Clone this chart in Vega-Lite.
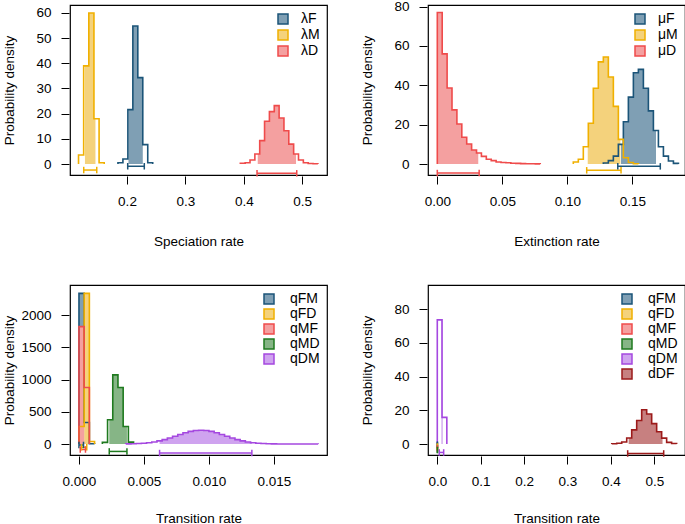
{
 "$schema": "https://vega.github.io/schema/vega-lite/v6.json",
 "padding": {"left": 1, "top": -1, "right": 0, "bottom": 0},
 "background": "white",
 "columns": 2,
 "spacing": {"row": 110, "column": 101},
 "bounds": "flush",
 "resolve": {"scale": {"fill": "independent", "stroke": "independent"}, "legend": {"fill": "independent", "stroke": "independent"}},
 "datasets": {
  "hist": [
   {"p":1,"s":"λF","x":0.1845,"d":0},{"p":1,"s":"λF","x":0.1845,"d":0.5},{"p":1,"s":"λF","x":0.193,"d":2},{"p":1,"s":"λF","x":0.2015,"d":21.6},{"p":1,"s":"λF","x":0.21,"d":54.8},{"p":1,"s":"λF","x":0.2185,"d":34.3},{"p":1,"s":"λF","x":0.227,"d":7.7},{"p":1,"s":"λF","x":0.2355,"d":0.5},{"p":1,"s":"λF","x":0.244,"d":0.5},{"p":1,"s":"λF","x":0.244,"d":0},
   {"p":1,"s":"λM","x":0.117,"d":0},{"p":1,"s":"λM","x":0.117,"d":3.6},{"p":1,"s":"λM","x":0.1258,"d":39},{"p":1,"s":"λM","x":0.1346,"d":60},{"p":1,"s":"λM","x":0.1434,"d":18},{"p":1,"s":"λM","x":0.1522,"d":0.5},{"p":1,"s":"λM","x":0.161,"d":0.5},{"p":1,"s":"λM","x":0.161,"d":0},
   {"p":1,"s":"λD","x":0.394,"d":0},{"p":1,"s":"λD","x":0.394,"d":0.3},{"p":1,"s":"λD","x":0.4023,"d":0.5},{"p":1,"s":"λD","x":0.4106,"d":1.6},{"p":1,"s":"λD","x":0.4189,"d":4},{"p":1,"s":"λD","x":0.4272,"d":9.3},{"p":1,"s":"λD","x":0.4355,"d":17},{"p":1,"s":"λD","x":0.4438,"d":20.8},{"p":1,"s":"λD","x":0.4521,"d":23.2},{"p":1,"s":"λD","x":0.4604,"d":18.3},{"p":1,"s":"λD","x":0.4687,"d":13.2},{"p":1,"s":"λD","x":0.477,"d":7.9},{"p":1,"s":"λD","x":0.4853,"d":4},{"p":1,"s":"λD","x":0.4936,"d":1.6},{"p":1,"s":"λD","x":0.5019,"d":0.5},{"p":1,"s":"λD","x":0.5102,"d":0.2},{"p":1,"s":"λD","x":0.5185,"d":0.1},{"p":1,"s":"λD","x":0.5268,"d":0.1},{"p":1,"s":"λD","x":0.5268,"d":0},
   {"p":2,"s":"μF","x":0.1277,"d":0},{"p":2,"s":"μF","x":0.1277,"d":0.5},{"p":2,"s":"μF","x":0.13155,"d":1.7},{"p":2,"s":"μF","x":0.1354,"d":4},{"p":2,"s":"μF","x":0.13925,"d":10},{"p":2,"s":"μF","x":0.1431,"d":21.5},{"p":2,"s":"μF","x":0.14695,"d":34},{"p":2,"s":"μF","x":0.1508,"d":46.4},{"p":2,"s":"μF","x":0.15465,"d":48.1},{"p":2,"s":"μF","x":0.1585,"d":38.5},{"p":2,"s":"μF","x":0.16235,"d":27},{"p":2,"s":"μF","x":0.1662,"d":17},{"p":2,"s":"μF","x":0.17005,"d":8.8},{"p":2,"s":"μF","x":0.1739,"d":4},{"p":2,"s":"μF","x":0.17775,"d":1.5},{"p":2,"s":"μF","x":0.1816,"d":0.3},{"p":2,"s":"μF","x":0.18545,"d":0.3},{"p":2,"s":"μF","x":0.18545,"d":0},
   {"p":2,"s":"μM","x":0.1046,"d":0},{"p":2,"s":"μM","x":0.1046,"d":1},{"p":2,"s":"μM","x":0.10845,"d":2.4},{"p":2,"s":"μM","x":0.1123,"d":8.8},{"p":2,"s":"μM","x":0.11615,"d":20.7},{"p":2,"s":"μM","x":0.12,"d":38.5},{"p":2,"s":"μM","x":0.12385,"d":51.9},{"p":2,"s":"μM","x":0.1277,"d":54.4},{"p":2,"s":"μM","x":0.13155,"d":44.2},{"p":2,"s":"μM","x":0.1354,"d":29.3},{"p":2,"s":"μM","x":0.13925,"d":12.5},{"p":2,"s":"μM","x":0.1431,"d":3.2},{"p":2,"s":"μM","x":0.14695,"d":0.8},{"p":2,"s":"μM","x":0.1508,"d":0.1},{"p":2,"s":"μM","x":0.15465,"d":0.1},{"p":2,"s":"μM","x":0.15465,"d":0},
   {"p":2,"s":"μD","x":0,"d":0},{"p":2,"s":"μD","x":0,"d":77},{"p":2,"s":"μD","x":0.00377,"d":56},{"p":2,"s":"μD","x":0.00754,"d":38.6},{"p":2,"s":"μD","x":0.01131,"d":27.5},{"p":2,"s":"μD","x":0.01508,"d":20.3},{"p":2,"s":"μD","x":0.01885,"d":13.6},{"p":2,"s":"μD","x":0.02262,"d":10.2},{"p":2,"s":"μD","x":0.02639,"d":7.1},{"p":2,"s":"μD","x":0.03016,"d":5.6},{"p":2,"s":"μD","x":0.03393,"d":3.9},{"p":2,"s":"μD","x":0.0377,"d":2.4},{"p":2,"s":"μD","x":0.04147,"d":1.7},{"p":2,"s":"μD","x":0.04524,"d":1.0},{"p":2,"s":"μD","x":0.04901,"d":0.8},{"p":2,"s":"μD","x":0.05278,"d":0.6},{"p":2,"s":"μD","x":0.05655,"d":0.4},{"p":2,"s":"μD","x":0.06032,"d":0.3},{"p":2,"s":"μD","x":0.06409,"d":0.2},{"p":2,"s":"μD","x":0.06786,"d":0.15},{"p":2,"s":"μD","x":0.07163,"d":0.1},{"p":2,"s":"μD","x":0.0754,"d":0.05},{"p":2,"s":"μD","x":0.07917,"d":0.05},{"p":2,"s":"μD","x":0.07917,"d":0},
   {"p":3,"s":"qFM","x":0,"d":0},{"p":3,"s":"qFM","x":0,"d":2340},{"p":3,"s":"qFM","x":0.0004,"d":335},{"p":3,"s":"qFM","x":0.0008,"d":5},{"p":3,"s":"qFM","x":0.0012,"d":5},{"p":3,"s":"qFM","x":0.0012,"d":0},
   {"p":3,"s":"qFD","x":0,"d":0},{"p":3,"s":"qFD","x":0,"d":273},{"p":3,"s":"qFD","x":0.0004,"d":2340},{"p":3,"s":"qFD","x":0.0008,"d":40},{"p":3,"s":"qFD","x":0.0012,"d":40},{"p":3,"s":"qFD","x":0.0012,"d":0},
   {"p":3,"s":"qMF","x":0,"d":0},{"p":3,"s":"qMF","x":0,"d":1823},{"p":3,"s":"qMF","x":0.0004,"d":877},{"p":3,"s":"qMF","x":0.0008,"d":877},{"p":3,"s":"qMF","x":0.0008,"d":0},
   {"p":3,"s":"qMD","x":0.0018,"d":0},{"p":3,"s":"qMD","x":0.0018,"d":25},{"p":3,"s":"qMD","x":0.0022,"d":377},{"p":3,"s":"qMD","x":0.0026,"d":1074},{"p":3,"s":"qMD","x":0.003,"d":877},{"p":3,"s":"qMD","x":0.0034,"d":273},{"p":3,"s":"qMD","x":0.0038,"d":30},{"p":3,"s":"qMD","x":0.0042,"d":30},{"p":3,"s":"qMD","x":0.0042,"d":0},
   {"p":3,"s":"qDM","x":0.0036,"d":0},{"p":3,"s":"qDM","x":0.0036,"d":2.2},{"p":3,"s":"qDM","x":0.004,"d":4.1},{"p":3,"s":"qDM","x":0.0044,"d":7.4},{"p":3,"s":"qDM","x":0.0048,"d":12.7},{"p":3,"s":"qDM","x":0.0052,"d":20.8},{"p":3,"s":"qDM","x":0.0056,"d":32.4},{"p":3,"s":"qDM","x":0.006,"d":48.2},{"p":3,"s":"qDM","x":0.0064,"d":68.4},{"p":3,"s":"qDM","x":0.0068,"d":92.7},{"p":3,"s":"qDM","x":0.0072,"d":119.9},{"p":3,"s":"qDM","x":0.0076,"d":147.9},{"p":3,"s":"qDM","x":0.008,"d":174.2},{"p":3,"s":"qDM","x":0.0084,"d":195.8},{"p":3,"s":"qDM","x":0.0088,"d":210},{"p":3,"s":"qDM","x":0.0092,"d":215},{"p":3,"s":"qDM","x":0.0096,"d":210},{"p":3,"s":"qDM","x":0.01,"d":195.8},{"p":3,"s":"qDM","x":0.0104,"d":174.2},{"p":3,"s":"qDM","x":0.0108,"d":147.9},{"p":3,"s":"qDM","x":0.0112,"d":119.9},{"p":3,"s":"qDM","x":0.0116,"d":92.7},{"p":3,"s":"qDM","x":0.012,"d":68.4},{"p":3,"s":"qDM","x":0.0124,"d":48.2},{"p":3,"s":"qDM","x":0.0128,"d":32.4},{"p":3,"s":"qDM","x":0.0132,"d":20.8},{"p":3,"s":"qDM","x":0.0136,"d":12.7},{"p":3,"s":"qDM","x":0.014,"d":7.4},{"p":3,"s":"qDM","x":0.0144,"d":4.1},{"p":3,"s":"qDM","x":0.0148,"d":2.2},{"p":3,"s":"qDM","x":0.0152,"d":1.1},{"p":3,"s":"qDM","x":0.0156,"d":0.5},{"p":3,"s":"qDM","x":0.016,"d":0.25},{"p":3,"s":"qDM","x":0.0164,"d":0.1},{"p":3,"s":"qDM","x":0.0168,"d":0.05},{"p":3,"s":"qDM","x":0.0172,"d":0.03},{"p":3,"s":"qDM","x":0.0176,"d":0.02},{"p":3,"s":"qDM","x":0.018,"d":0.01},{"p":3,"s":"qDM","x":0.0184,"d":0.01},{"p":3,"s":"qDM","x":0.0184,"d":0},
   {"p":4,"s":"qDM","x":0,"d":0},{"p":4,"s":"qDM","x":0,"d":73.7},{"p":4,"s":"qDM","x":0.011,"d":15.8},{"p":4,"s":"qDM","x":0.022,"d":15.8},{"p":4,"s":"qDM","x":0.022,"d":0},
   {"p":4,"s":"dDF","x":0.402,"d":0},{"p":4,"s":"dDF","x":0.402,"d":0.2},{"p":4,"s":"dDF","x":0.4135,"d":0.5},{"p":4,"s":"dDF","x":0.425,"d":1.2},{"p":4,"s":"dDF","x":0.4365,"d":3.6},{"p":4,"s":"dDF","x":0.448,"d":8.4},{"p":4,"s":"dDF","x":0.4595,"d":14},{"p":4,"s":"dDF","x":0.471,"d":20.3},{"p":4,"s":"dDF","x":0.4825,"d":17.8},{"p":4,"s":"dDF","x":0.494,"d":12.1},{"p":4,"s":"dDF","x":0.5055,"d":7.3},{"p":4,"s":"dDF","x":0.517,"d":3.5},{"p":4,"s":"dDF","x":0.5285,"d":1},{"p":4,"s":"dDF","x":0.54,"d":0.3},{"p":4,"s":"dDF","x":0.5515,"d":0.3},{"p":4,"s":"dDF","x":0.5515,"d":0}
  ],
  "fill": [
   {"p":1,"s":"λF","x":0.2025,"d":21.6},{"p":1,"s":"λF","x":0.21,"d":54.8},{"p":1,"s":"λF","x":0.2185,"d":34.3},{"p":1,"s":"λF","x":0.227,"d":34.3},
   {"p":1,"s":"λM","x":0.128,"d":39},{"p":1,"s":"λM","x":0.1346,"d":60},{"p":1,"s":"λM","x":0.1434,"d":18},{"p":1,"s":"λM","x":0.146,"d":18},
   {"p":1,"s":"λD","x":0.4238,"d":4},{"p":1,"s":"λD","x":0.4272,"d":9.3},{"p":1,"s":"λD","x":0.4355,"d":17},{"p":1,"s":"λD","x":0.4438,"d":20.8},{"p":1,"s":"λD","x":0.4521,"d":23.2},{"p":1,"s":"λD","x":0.4604,"d":18.3},{"p":1,"s":"λD","x":0.4687,"d":13.2},{"p":1,"s":"λD","x":0.477,"d":7.9},{"p":1,"s":"λD","x":0.4853,"d":4},{"p":1,"s":"λD","x":0.4894,"d":4},
   {"p":2,"s":"μF","x":0.1413,"d":10},{"p":2,"s":"μF","x":0.1431,"d":21.5},{"p":2,"s":"μF","x":0.14695,"d":34},{"p":2,"s":"μF","x":0.1508,"d":46.4},{"p":2,"s":"μF","x":0.15465,"d":48.1},{"p":2,"s":"μF","x":0.1585,"d":38.5},{"p":2,"s":"μF","x":0.16235,"d":27},{"p":2,"s":"μF","x":0.1662,"d":17},{"p":2,"s":"μF","x":0.1682,"d":17},
   {"p":2,"s":"μM","x":0.1157,"d":8.8},{"p":2,"s":"μM","x":0.11615,"d":20.7},{"p":2,"s":"μM","x":0.12,"d":38.5},{"p":2,"s":"μM","x":0.12385,"d":51.9},{"p":2,"s":"μM","x":0.1277,"d":54.4},{"p":2,"s":"μM","x":0.13155,"d":44.2},{"p":2,"s":"μM","x":0.1354,"d":29.3},{"p":2,"s":"μM","x":0.13925,"d":12.5},{"p":2,"s":"μM","x":0.1408,"d":12.5},
   {"p":2,"s":"μD","x":0,"d":77},{"p":2,"s":"μD","x":0.00377,"d":56},{"p":2,"s":"μD","x":0.00754,"d":38.6},{"p":2,"s":"μD","x":0.01131,"d":27.5},{"p":2,"s":"μD","x":0.01508,"d":20.3},{"p":2,"s":"μD","x":0.01885,"d":13.6},{"p":2,"s":"μD","x":0.02262,"d":10.2},{"p":2,"s":"μD","x":0.02639,"d":7.1},{"p":2,"s":"μD","x":0.03016,"d":5.6},{"p":2,"s":"μD","x":0.0315,"d":5.6},
   {"p":3,"s":"qFM","x":0,"d":2340},{"p":3,"s":"qFM","x":0.0004,"d":2340},
   {"p":3,"s":"qFD","x":0.0004,"d":2340},{"p":3,"s":"qFD","x":0.0008,"d":2340},
   {"p":3,"s":"qMF","x":0,"d":1823},{"p":3,"s":"qMF","x":0.0004,"d":1823},
   {"p":3,"s":"qMD","x":0.00233,"d":377},{"p":3,"s":"qMD","x":0.0026,"d":1074},{"p":3,"s":"qMD","x":0.003,"d":877},{"p":3,"s":"qMD","x":0.0034,"d":273},{"p":3,"s":"qMD","x":0.00369,"d":273},
   {"p":3,"s":"qDM","x":0.0062,"d":48.2},{"p":3,"s":"qDM","x":0.0064,"d":68.4},{"p":3,"s":"qDM","x":0.0068,"d":92.7},{"p":3,"s":"qDM","x":0.0072,"d":119.9},{"p":3,"s":"qDM","x":0.0076,"d":147.9},{"p":3,"s":"qDM","x":0.008,"d":174.2},{"p":3,"s":"qDM","x":0.0084,"d":195.8},{"p":3,"s":"qDM","x":0.0088,"d":210},{"p":3,"s":"qDM","x":0.0092,"d":215},{"p":3,"s":"qDM","x":0.0096,"d":210},{"p":3,"s":"qDM","x":0.01,"d":195.8},{"p":3,"s":"qDM","x":0.0104,"d":174.2},{"p":3,"s":"qDM","x":0.0108,"d":147.9},{"p":3,"s":"qDM","x":0.0112,"d":119.9},{"p":3,"s":"qDM","x":0.0116,"d":92.7},{"p":3,"s":"qDM","x":0.012,"d":68.4},{"p":3,"s":"qDM","x":0.0124,"d":48.2},{"p":3,"s":"qDM","x":0.0128,"d":32.4},{"p":3,"s":"qDM","x":0.0132,"d":20.8},{"p":3,"s":"qDM","x":0.0133,"d":20.8},
   {"p":4,"s":"qDM","x":0.0095,"d":73.7},{"p":4,"s":"qDM","x":0.011,"d":15.8},{"p":4,"s":"qDM","x":0.0125,"d":15.8},
   {"p":4,"s":"dDF","x":0.441,"d":3.6},{"p":4,"s":"dDF","x":0.448,"d":8.4},{"p":4,"s":"dDF","x":0.4595,"d":14},{"p":4,"s":"dDF","x":0.471,"d":20.3},{"p":4,"s":"dDF","x":0.4825,"d":17.8},{"p":4,"s":"dDF","x":0.494,"d":12.1},{"p":4,"s":"dDF","x":0.5055,"d":7.3},{"p":4,"s":"dDF","x":0.517,"d":3.5},{"p":4,"s":"dDF","x":0.519,"d":3.5}
  ],
  "hpd": [
   {"p":1,"s":"λF","x":0.2012,"x2":0.2296,"d":-0.9},{"p":1,"s":"λM","x":0.1259,"x2":0.1482,"d":-2.4},{"p":1,"s":"λD","x":0.4226,"x2":0.4906,"d":-3.7},
   {"p":2,"s":"μF","x":0.1388,"x2":0.1715,"d":-1.2},{"p":2,"s":"μM","x":0.1149,"x2":0.1413,"d":-3.2},{"p":2,"s":"μD","x":0,"x2":0.0322,"d":-4.6},
   {"p":3,"s":"qFM","x":0,"x2":0.00035,"d":-15},{"p":3,"s":"qFD","x":0.0002,"x2":0.0006,"d":-50},{"p":3,"s":"qMF","x":0.0001,"x2":0.0005,"d":-85},{"p":3,"s":"qMD","x":0.00233,"x2":0.00369,"d":-115},{"p":3,"s":"qDM","x":0.0062,"x2":0.0133,"d":-140},
   {"p":4,"s":"qFM","x":0,"x2":0.0005,"d":-0.5},{"p":4,"s":"qFD","x":0,"x2":0.0005,"d":-1.5},{"p":4,"s":"qMF","x":0,"x2":0.0005,"d":-2.5},{"p":4,"s":"qMD","x":0,"x2":0.0005,"d":-3.5},{"p":4,"s":"qDM","x":0.0046,"x2":0.0147,"d":-5},{"p":4,"s":"dDF","x":0.4387,"x2":0.5217,"d":-5.6}
  ]
 },
 "concat": [
  {
   "width": 257, "height": 170,
   "encoding": {
    "x": {"field": "x", "type": "quantitative", "title": "Speciation rate", "scale": {"domain": [0.1024, 0.5424], "nice": false, "zero": false}, "axis": {"values": [0.2, 0.3, 0.4, 0.5], "format": ".1f", "titleY": 65}},
    "y": {"field": "d", "type": "quantitative", "title": "Probability density", "scale": {"domain": [-4.37, 63.17], "nice": false, "zero": false}, "axis": {"values": [0, 10, 20, 30, 40, 50, 60], "format": "d"}}
   },
   "layer": [
    {"data": {"name": "hpd"}, "transform": [{"filter": "false"}], "mark": {"type": "point", "shape": "square", "filled": true, "opacity": 1, "strokeWidth": 1.5, "size": 100},
     "encoding": {
      "fill": {"field": "s", "type": "nominal", "scale": {"domain": ["λF","λM","λD"], "range": ["#7F9FB4","#F4D27C","#F4A0A0"]}, "legend": {"title": null, "orient": "top-right", "offset": 7, "padding": 0, "symbolType": "square", "symbolSize": 100, "symbolStrokeWidth": 1.5, "symbolOpacity": 1, "labelFontSize": 14, "labelOffset": 11, "rowPadding": 0}},
      "stroke": {"field": "s", "type": "nominal", "scale": {"domain": ["λF","λM","λD"], "range": ["#1B5478","#F0B000","#EF4B4B"]}, "legend": {"title": null, "orient": "top-right", "offset": 7, "padding": 0, "symbolType": "square", "symbolSize": 100, "symbolStrokeWidth": 1.5, "symbolOpacity": 1, "labelFontSize": 14, "labelOffset": 11, "rowPadding": 0}}
     }},
    {"data": {"name": "fill"}, "transform": [{"filter": "datum.p == 1"}], "mark": {"type": "area", "interpolate": "step-after"},
     "encoding": {"y2": {"datum": 0}, "fill": {"field": "s", "type": "nominal"}}},
    {"data": {"name": "hist"}, "transform": [{"filter": "datum.p == 1"}], "mark": {"type": "line", "interpolate": "step-after", "strokeWidth": 1.6},
     "encoding": {"stroke": {"field": "s", "type": "nominal"}, "order": {"value": null}}},
    {"data": {"name": "hpd"}, "transform": [{"filter": "datum.p == 1"}], "mark": {"type": "rule", "strokeWidth": 1.5},
     "encoding": {"x2": {"field": "x2"}, "stroke": {"field": "s", "type": "nominal"}}},
    {"data": {"name": "hpd"}, "transform": [{"filter": "datum.p == 1"}], "mark": {"type": "tick", "orient": "vertical", "size": 5, "thickness": 0.01, "filled": false, "strokeWidth": 1.5, "opacity": 1},
     "encoding": {"stroke": {"field": "s", "type": "nominal"}}},
    {"data": {"name": "hpd"}, "transform": [{"filter": "datum.p == 1"}], "mark": {"type": "tick", "orient": "vertical", "size": 5, "thickness": 0.01, "filled": false, "strokeWidth": 1.5, "opacity": 1},
     "encoding": {"x": {"field": "x2", "type": "quantitative", "title": "Speciation rate"}, "stroke": {"field": "s", "type": "nominal"}}}
   ]
  },
  {
   "width": 257, "height": 170,
   "encoding": {
    "x": {"field": "x", "type": "quantitative", "title": "Extinction rate", "scale": {"domain": [-0.00715, 0.1905], "nice": false, "zero": false}, "axis": {"values": [0, 0.05, 0.1, 0.15], "format": ".2f", "titleY": 65}},
    "y": {"field": "d", "type": "quantitative", "title": "Probability density", "scale": {"domain": [-5.59, 80.83], "nice": false, "zero": false}, "axis": {"values": [0, 20, 40, 60, 80], "format": "d"}}
   },
   "layer": [
    {"data": {"name": "hpd"}, "transform": [{"filter": "false"}], "mark": {"type": "point", "shape": "square", "filled": true, "opacity": 1, "strokeWidth": 1.5, "size": 100},
     "encoding": {
      "fill": {"field": "s", "type": "nominal", "scale": {"domain": ["μF","μM","μD"], "range": ["#7F9FB4","#F4D27C","#F4A0A0"]}, "legend": {"title": null, "orient": "top-right", "offset": 7, "padding": 0, "symbolType": "square", "symbolSize": 100, "symbolStrokeWidth": 1.5, "symbolOpacity": 1, "labelFontSize": 14, "labelOffset": 11, "rowPadding": 0}},
      "stroke": {"field": "s", "type": "nominal", "scale": {"domain": ["μF","μM","μD"], "range": ["#1B5478","#F0B000","#EF4B4B"]}, "legend": {"title": null, "orient": "top-right", "offset": 7, "padding": 0, "symbolType": "square", "symbolSize": 100, "symbolStrokeWidth": 1.5, "symbolOpacity": 1, "labelFontSize": 14, "labelOffset": 11, "rowPadding": 0}}
     }},
    {"data": {"name": "fill"}, "transform": [{"filter": "datum.p == 2"}], "mark": {"type": "area", "interpolate": "step-after"},
     "encoding": {"y2": {"datum": 0}, "fill": {"field": "s", "type": "nominal"}}},
    {"data": {"name": "hist"}, "transform": [{"filter": "datum.p == 2"}], "mark": {"type": "line", "interpolate": "step-after", "strokeWidth": 1.6},
     "encoding": {"stroke": {"field": "s", "type": "nominal"}, "order": {"value": null}}},
    {"data": {"name": "hpd"}, "transform": [{"filter": "datum.p == 2"}], "mark": {"type": "rule", "strokeWidth": 1.5},
     "encoding": {"x2": {"field": "x2"}, "stroke": {"field": "s", "type": "nominal"}}},
    {"data": {"name": "hpd"}, "transform": [{"filter": "datum.p == 2"}], "mark": {"type": "tick", "orient": "vertical", "size": 5, "thickness": 0.01, "filled": false, "strokeWidth": 1.5, "opacity": 1},
     "encoding": {"stroke": {"field": "s", "type": "nominal"}}},
    {"data": {"name": "hpd"}, "transform": [{"filter": "datum.p == 2"}], "mark": {"type": "tick", "orient": "vertical", "size": 5, "thickness": 0.01, "filled": false, "strokeWidth": 1.5, "opacity": 1},
     "encoding": {"x": {"field": "x2", "type": "quantitative", "title": "Extinction rate"}, "stroke": {"field": "s", "type": "nominal"}}}
   ]
  },
  {
   "width": 257, "height": 170,
   "encoding": {
    "x": {"field": "x", "type": "quantitative", "title": "Transition rate", "scale": {"domain": [-0.00069, 0.01908], "nice": false, "zero": false}, "axis": {"values": [0, 0.005, 0.01, 0.015], "format": ".3f", "titleY": 62}},
    "y": {"field": "d", "type": "quantitative", "title": "Probability density", "scale": {"domain": [-170.5, 2470], "nice": false, "zero": false}, "axis": {"values": [0, 500, 1000, 1500, 2000], "format": "d"}}
   },
   "layer": [
    {"data": {"name": "hpd"}, "transform": [{"filter": "false"}], "mark": {"type": "point", "shape": "square", "filled": true, "opacity": 1, "strokeWidth": 1.5, "size": 100},
     "encoding": {
      "fill": {"field": "s", "type": "nominal", "scale": {"domain": ["qFM","qFD","qMF","qMD","qDM"], "range": ["#7F9FB4","#F4D27C","#F4A0A0","#86B586","#CFA3EF"]}, "legend": {"title": null, "orient": "top-right", "offset": 7, "padding": 0, "symbolType": "square", "symbolSize": 100, "symbolStrokeWidth": 1.5, "symbolOpacity": 1, "labelFontSize": 14, "labelOffset": 14, "rowPadding": -1.5}},
      "stroke": {"field": "s", "type": "nominal", "scale": {"domain": ["qFM","qFD","qMF","qMD","qDM"], "range": ["#1B5478","#F0B000","#EF4B4B","#1F7A1F","#A548E0"]}, "legend": {"title": null, "orient": "top-right", "offset": 7, "padding": 0, "symbolType": "square", "symbolSize": 100, "symbolStrokeWidth": 1.5, "symbolOpacity": 1, "labelFontSize": 14, "labelOffset": 14, "rowPadding": -1.5}}
     }},
    {"data": {"name": "fill"}, "transform": [{"filter": "datum.p == 3"}], "mark": {"type": "area", "interpolate": "step-after"},
     "encoding": {"y2": {"datum": 0}, "fill": {"field": "s", "type": "nominal"}}},
    {"data": {"name": "hist"}, "transform": [{"filter": "datum.p == 3"}], "mark": {"type": "line", "interpolate": "step-after", "strokeWidth": 1.6},
     "encoding": {"stroke": {"field": "s", "type": "nominal"}, "order": {"value": null}}},
    {"data": {"name": "hpd"}, "transform": [{"filter": "datum.p == 3"}], "mark": {"type": "rule", "strokeWidth": 1.5},
     "encoding": {"x2": {"field": "x2"}, "stroke": {"field": "s", "type": "nominal"}}},
    {"data": {"name": "hpd"}, "transform": [{"filter": "datum.p == 3"}], "mark": {"type": "tick", "orient": "vertical", "size": 5, "thickness": 0.01, "filled": false, "strokeWidth": 1.5, "opacity": 1},
     "encoding": {"stroke": {"field": "s", "type": "nominal"}}},
    {"data": {"name": "hpd"}, "transform": [{"filter": "datum.p == 3"}], "mark": {"type": "tick", "orient": "vertical", "size": 5, "thickness": 0.01, "filled": false, "strokeWidth": 1.5, "opacity": 1},
     "encoding": {"x": {"field": "x2", "type": "quantitative", "title": "Transition rate"}, "stroke": {"field": "s", "type": "nominal"}}}
   ]
  },
  {
   "width": 257, "height": 170,
   "encoding": {
    "x": {"field": "x", "type": "quantitative", "title": "Transition rate", "scale": {"domain": [-0.0214, 0.5708], "nice": false, "zero": false}, "axis": {"values": [0, 0.1, 0.2, 0.3, 0.4, 0.5], "format": ".1f", "titleY": 62}},
    "y": {"field": "d", "type": "quantitative", "title": "Probability density", "scale": {"domain": [-6.52, 94.4], "nice": false, "zero": false}, "axis": {"values": [0, 20, 40, 60, 80], "format": "d"}}
   },
   "layer": [
    {"data": {"name": "hpd"}, "transform": [{"filter": "false"}], "mark": {"type": "point", "shape": "square", "filled": true, "opacity": 1, "strokeWidth": 1.5, "size": 100},
     "encoding": {
      "fill": {"field": "s", "type": "nominal", "scale": {"domain": ["qFM","qFD","qMF","qMD","qDM","dDF"], "range": ["#7F9FB4","#F4D27C","#F4A0A0","#86B586","#CFA3EF","#C78080"]}, "legend": {"title": null, "orient": "top-right", "offset": 7, "padding": 0, "symbolType": "square", "symbolSize": 100, "symbolStrokeWidth": 1.5, "symbolOpacity": 1, "labelFontSize": 14, "labelOffset": 14, "rowPadding": -1.5}},
      "stroke": {"field": "s", "type": "nominal", "scale": {"domain": ["qFM","qFD","qMF","qMD","qDM","dDF"], "range": ["#1B5478","#F0B000","#EF4B4B","#1F7A1F","#A548E0","#9C1A1A"]}, "legend": {"title": null, "orient": "top-right", "offset": 7, "padding": 0, "symbolType": "square", "symbolSize": 100, "symbolStrokeWidth": 1.5, "symbolOpacity": 1, "labelFontSize": 14, "labelOffset": 14, "rowPadding": -1.5}}
     }},
    {"data": {"name": "fill"}, "transform": [{"filter": "datum.p == 4"}], "mark": {"type": "area", "interpolate": "step-after"},
     "encoding": {"y2": {"datum": 0}, "fill": {"field": "s", "type": "nominal"}}},
    {"data": {"name": "hist"}, "transform": [{"filter": "datum.p == 4"}], "mark": {"type": "line", "interpolate": "step-after", "strokeWidth": 1.6},
     "encoding": {"stroke": {"field": "s", "type": "nominal"}, "order": {"value": null}}},
    {"data": {"name": "hpd"}, "transform": [{"filter": "datum.p == 4"}], "mark": {"type": "rule", "strokeWidth": 1.5},
     "encoding": {"x2": {"field": "x2"}, "stroke": {"field": "s", "type": "nominal"}}},
    {"data": {"name": "hpd"}, "transform": [{"filter": "datum.p == 4"}], "mark": {"type": "tick", "orient": "vertical", "size": 5, "thickness": 0.01, "filled": false, "strokeWidth": 1.5, "opacity": 1},
     "encoding": {"stroke": {"field": "s", "type": "nominal"}}},
    {"data": {"name": "hpd"}, "transform": [{"filter": "datum.p == 4"}], "mark": {"type": "tick", "orient": "vertical", "size": 5, "thickness": 0.01, "filled": false, "strokeWidth": 1.5, "opacity": 1},
     "encoding": {"x": {"field": "x2", "type": "quantitative", "title": "Transition rate"}, "stroke": {"field": "s", "type": "nominal"}}}
   ]
  }
 ],
 "config": {
  "font": "Liberation Sans",
  "view": {"stroke": "#000000", "strokeWidth": 1.2},
  "axis": {"domain": false, "grid": false, "ticks": true, "tickSize": 8, "tickColor": "#000000", "tickWidth": 1, "offset": 1, "labelFont": "Liberation Sans", "labelFontSize": 13.5, "labelColor": "#000000", "titleFont": "Liberation Sans", "titleFontSize": 13.5, "titleFontWeight": "normal", "titleColor": "#000000", "labelFlush": false},
  "axisX": {"labelPadding": 10, "titleBaseline": "middle"},
  "axisY": {"labelPadding": 10, "titleX": -60, "titleBaseline": "middle"},
  "legend": {"labelFont": "Liberation Sans", "labelColor": "#000000"}
 }
}
